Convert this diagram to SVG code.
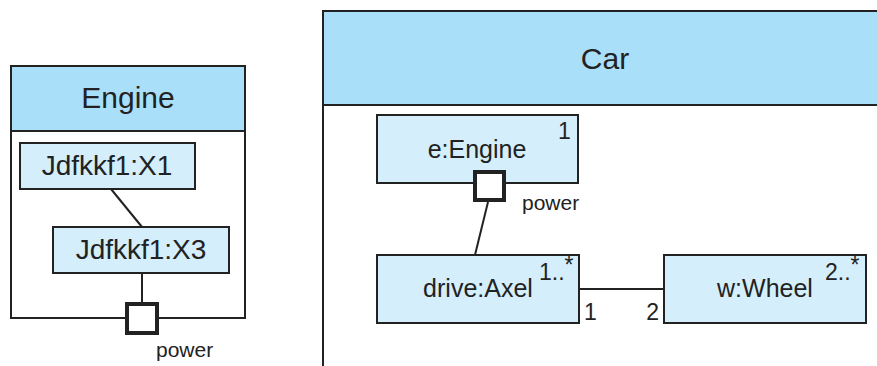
<svg xmlns="http://www.w3.org/2000/svg" width="877" height="366" viewBox="0 0 877 366">
<style>
.frame{fill:#ffffff;stroke:#222222;stroke-width:2}
.hdr{fill:#aadffa;stroke:#222222;stroke-width:2}
.box{fill:#d4eefb;stroke:#222222;stroke-width:2}
.port{fill:#ffffff;stroke:#222222;stroke-width:4}
.ln{stroke:#222222;stroke-width:2;fill:none}
text{font-family:"Liberation Sans",Arial,sans-serif;fill:#222222}
.t30{font-size:30px;text-anchor:middle}
.t27{font-size:28px;text-anchor:middle}
.t25{font-size:25px;text-anchor:middle}
.s21{font-size:21px}
.m23{font-size:23px}
</style>
<rect width="877" height="366" fill="#ffffff"/>
<g id="engine-frame">
<rect class="frame" x="11" y="66" width="234" height="252"/>
<rect class="hdr" x="11" y="66" width="234" height="65"/>
<text class="t30" x="128" y="108">Engine</text>
</g>
<g id="car-frame">
<rect class="frame" x="323" y="11" width="570" height="370"/>
<rect class="hdr" x="323" y="11" width="570" height="94"/>
<text class="t30" x="605" y="69">Car</text>
</g>
<g id="connectors">
<line class="ln" x1="111" y1="189" x2="142" y2="227"/>
<line class="ln" x1="142" y1="273" x2="142" y2="304"/>
<line class="ln" x1="488" y1="202" x2="475" y2="255"/>
<line class="ln" x1="579" y1="289" x2="664" y2="289"/>
</g>
<g id="x1">
<rect class="box" x="20" y="143" width="175" height="46"/>
<text class="t27" x="107" y="175">Jdfkkf1:X1</text>
</g>
<g id="x3">
<rect class="box" x="53" y="227" width="176" height="46"/>
<text class="t27" x="141" y="259">Jdfkkf1:X3</text>
</g>
<g id="engine-power-port">
<rect class="port" x="127" y="304" width="30" height="29"/>
<text class="s21" x="156" y="357">power</text>
</g>
<g id="e-engine">
<rect class="box" x="377" y="115" width="201" height="68"/>
<text class="t25" x="477" y="158">e:Engine</text>
<text class="m23" x="558" y="139">1</text>
</g>
<g id="e-engine-port">
<rect class="port" x="475" y="172" width="29" height="28"/>
<text class="s21" x="522" y="210">power</text>
</g>
<g id="drive-axel">
<rect class="box" x="377" y="255" width="202" height="68"/>
<text class="t25" x="478" y="297">drive:Axel</text>
<text class="m23" x="539" y="280">1..<tspan dy="-7">*</tspan></text>
</g>
<g id="w-wheel">
<rect class="box" x="664" y="255" width="202" height="68"/>
<text class="t25" x="765" y="297">w:Wheel</text>
<text class="m23" x="825" y="280">2..<tspan dy="-7">*</tspan></text>
</g>
<g id="end-labels">
<text class="m23" x="584" y="320">1</text>
<text class="m23" x="659" y="320" text-anchor="end">2</text>
</g>
</svg>
